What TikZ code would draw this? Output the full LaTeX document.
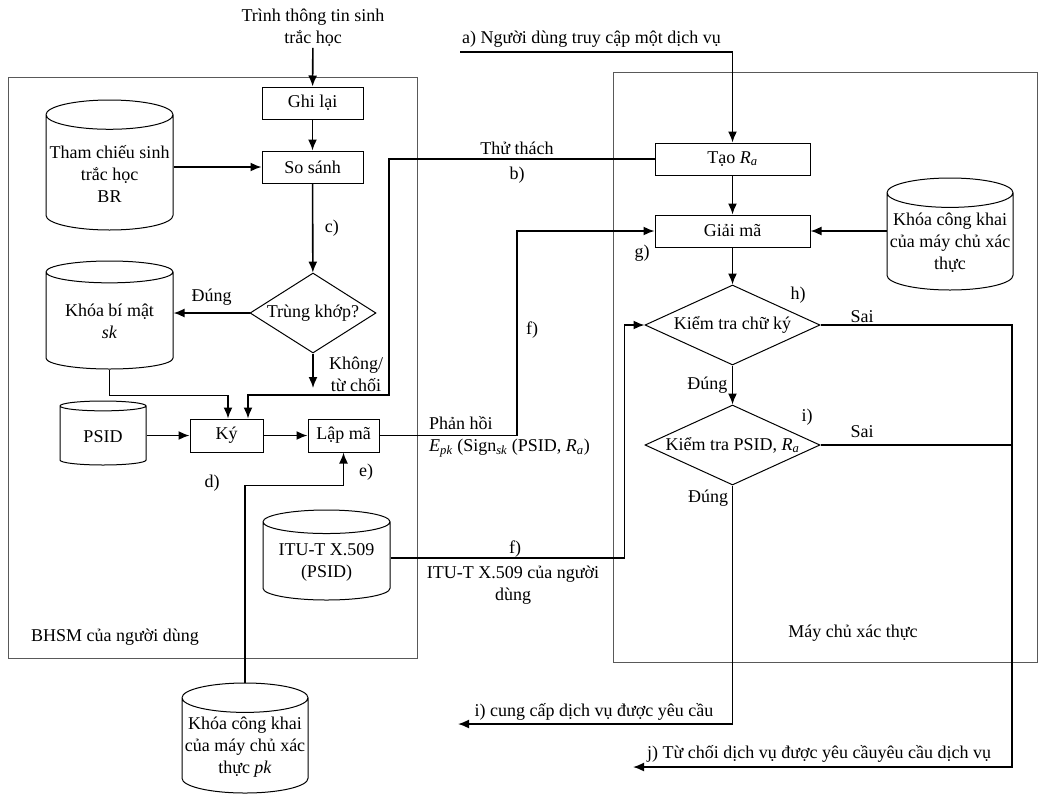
\documentclass[tikz,border=0pt]{standalone}
\usepackage{fontspec}
\setmainfont{Liberation Serif}
\usepackage{tikz}
\usetikzlibrary{positioning,arrows.meta,calc,shapes.geometric}

\begin{document}
\begin{tikzpicture}[x=1pt, y=-1pt,
  font=\fontsize{18}{22}\selectfont,
  box/.style={draw, line width=1pt, minimum height=32pt, align=center, inner sep=2pt},
  dec/.style={draw, diamond, line width=1pt, inner sep=0pt, minimum height=80pt, align=center},
  db/.style={draw, cylinder, shape border rotate=90, aspect=0.24, line width=1pt, align=center, inner sep=1pt, anchor=shape center},
  arr/.style={-{Latex[length=11pt,width=9pt]}, line width=1.6pt},
  frame/.style={draw=black!65, line width=0.8pt},
  lbl/.style={inner sep=1pt, align=center}
]
\useasboundingbox (0,0) rectangle (1040,795);
\draw[frame] (8,77) rectangle (417,658);
\draw[frame] (613,72) rectangle (1037,662);

\node[lbl] (T) at (313,28) {Trình thông tin sinh\\trắc học};
\node[box, minimum width=101pt] (G) at (312.5,103) {Ghi lại};
\node[box, minimum width=101pt] (SS) at (312.5,167) {So sánh};
\node[db, minimum width=127pt, minimum height=130pt] (BR) at (109.5,165) {Tham chiếu sinh\\trắc học\\BR};
\node[dec, minimum width=126pt, aspect=1.58] (K) at (313,313) {Trùng khớp?};
\node[db, minimum width=127pt, minimum height=108pt] (SK) at (109.5,315) {Khóa bí mật\\\textit{sk}};
\coordinate (N) at (313,388);
\node[db, minimum width=86pt, minimum height=64pt] (PS) at (103,433) {PSID};
\node[box, minimum width=73pt, minimum height=33pt] (KY) at (226.5,435.5) {Ký};
\node[box, minimum width=71pt, minimum height=33pt] (LM) at (343.5,435.5) {Lập mã};
\node[db, minimum width=127pt, minimum height=90pt] (ITU) at (326.5,555) {ITU-T X.509\\(PSID)};
\node[db, minimum width=126pt, minimum height=110pt] (PK) at (245,738) {Khóa công khai\\của máy chủ xác\\thực \textit{pk}};

\coordinate (A) at (460,52);
\node[box, minimum width=155pt] (TR) at (732.5,159) {Tạo \textit{R\textsubscript{a}}};
\node[box, minimum width=155pt] (GM) at (732.5,231) {Giải mã};
\node[db, minimum width=126pt, minimum height=112pt] (PKS) at (950,234) {Khóa công khai\\của máy chủ xác\\thực};
\node[dec, minimum width=175pt, aspect=2.19] (C1) at (732.5,325) {Kiểm tra chữ ký};
\node[dec, minimum width=175pt, aspect=2.19] (C2) at (732.5,445) {Kiểm tra PSID, \textit{R\textsubscript{a}}};
\coordinate (CH) at (389,395);
\coordinate (F) at (517,330);
\coordinate (RJ) at (1012,767);
\coordinate (RE) at (633,767);
\coordinate (OK) at (458,724);

\draw[arr] (T) -- (G);
\draw[arr] (G) -- (SS);
\draw[arr] (BR.east |- SS.west) -- (SS.west);
\draw[arr] (SS) -- node[right=8pt]{c)} (K);
\draw[arr] (K.west) -- node[above=3pt]{Đúng} (K.west -| SK.east);
\draw[arr] (K.south) -- (N);
\draw[arr] (SK.south) |- ([xshift=1.5pt,yshift=23pt]KY.north) -- ([xshift=1.5pt]KY.north);
\draw[arr] (TR.west) -| (CH) -| ([xshift=21.5pt]KY.north);
\draw[arr] (PS.east |- KY.west) -- (KY.west);
\draw[arr] (KY) -- (LM);
\draw[arr] (LM.east) -| (F) |- (GM.west);
\draw[arr] (PK.north) |- ([yshift=-33pt]LM.south) -- (LM.south);
\draw[arr] ([yshift=4pt]ITU.east) -| ([xshift=-20pt]C1.west) -- (C1.west);
\draw[arr] (A) -| (TR.north);
\draw[arr] (TR) -- (GM);
\draw[arr] (PKS.west |- GM.east) -- (GM.east);
\draw[arr] (GM) -- (C1);
\draw[arr] (C1) -- node[left=1pt]{Đúng} (C2);
\draw[arr] (C1.east) -| (RJ) -- (RE);
\draw[line width=1.6pt] (C2.east) -- (C2.east -| RJ);
\draw[arr] (C2.south) |- (OK);

\node[lbl] (NO) at (356,374) {Không/\\từ chối};
\node[lbl, anchor=base west] (AL) at (461,43) {a) Người dùng truy cập một dịch vụ};
\node[lbl] (CHL) at (517,148) {Thử thách};
\node[lbl] (BL) at (517,175) {b)};
\node[lbl] (FL) at (532,330) {f)};
\node[lbl] (GL) at (642,253) {g)};
\node[lbl, align=left, anchor=west] (RS) at (428,437) {Phản hồi\\\textit{E}\textsubscript{\textit{pk}} (Sign\textsubscript{\textit{sk}} (PSID, \textit{R\textsubscript{a}})};
\node[lbl] (DL) at (212,483) {d)};
\node[lbl] (EL) at (366,472) {e)};
\node[lbl] (F2) at (515,549) {f)};
\node[lbl] (XL) at (513,585) {ITU-T X.509 của người\\dùng};
\node[lbl] (HL) at (798,295) {h)};
\node[lbl] (IL) at (807,417) {i)};
\node[lbl] (S1) at (862,317) {Sai};
\node[lbl] (S2) at (862,432) {Sai};
\node[lbl] (D2) at (708,498) {Đúng};
\node[lbl, anchor=base] (OKL) at (594,716) {i) cung cấp dịch vụ được yêu cầu};
\node[lbl, anchor=base] (RJL) at (819,758) {j) Từ chối dịch vụ được yêu cầuyêu cầu dịch vụ};
\node[lbl, anchor=west] (BH) at (30,637) {BHSM của người dùng};
\node[lbl] (MC) at (853,633) {Máy chủ xác thực};
\end{tikzpicture}
\end{document}
